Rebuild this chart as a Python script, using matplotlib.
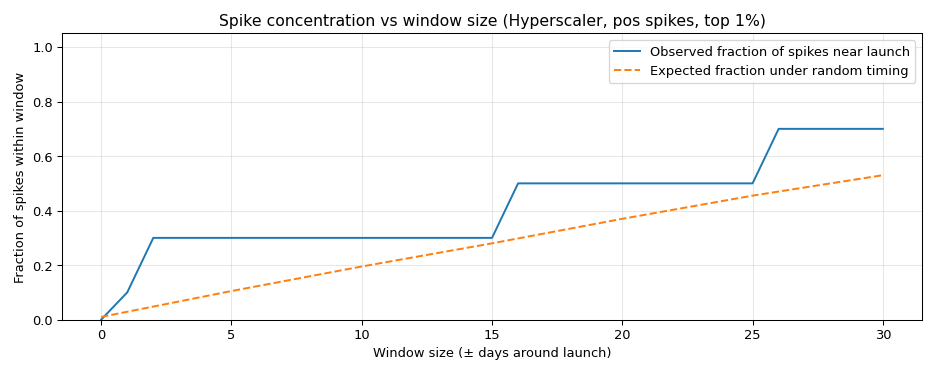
import matplotlib.pyplot as plt

windows = list(range(31))
observed = [0.0, 0.1, 0.3, 0.3, 0.3, 0.3, 0.3, 0.3, 0.3, 0.3, 0.3,
            0.3, 0.3, 0.3, 0.3, 0.3, 0.5, 0.5, 0.5, 0.5, 0.5,
            0.5, 0.5, 0.5, 0.5, 0.5, 0.7, 0.7, 0.7, 0.7, 0.7]
expected = [0.010, 0.029, 0.048, 0.067, 0.086, 0.105, 0.123, 0.141, 0.159, 0.177,
            0.195, 0.212, 0.229, 0.246, 0.263, 0.280, 0.298, 0.316, 0.334, 0.352,
            0.370, 0.387, 0.404, 0.421, 0.438, 0.455, 0.470, 0.485, 0.500, 0.515,
            0.530]

fig, ax = plt.subplots(figsize=(10, 4), dpi=93.6)
ax.plot(windows, observed, label="Observed fraction of spikes near launch")
ax.plot(windows, expected, linestyle="--", label="Expected fraction under random timing")
ax.set_ylim(0, 1.05)
ax.set_xlabel("Window size (± days around launch)")
ax.set_ylabel("Fraction of spikes within window")
ax.set_title("Spike concentration vs window size (Hyperscaler, pos spikes, top 1%)")
ax.grid(True, alpha=0.3)
ax.legend(loc="upper right")
fig.tight_layout()
fig.savefig("out.png", dpi=93.6)
